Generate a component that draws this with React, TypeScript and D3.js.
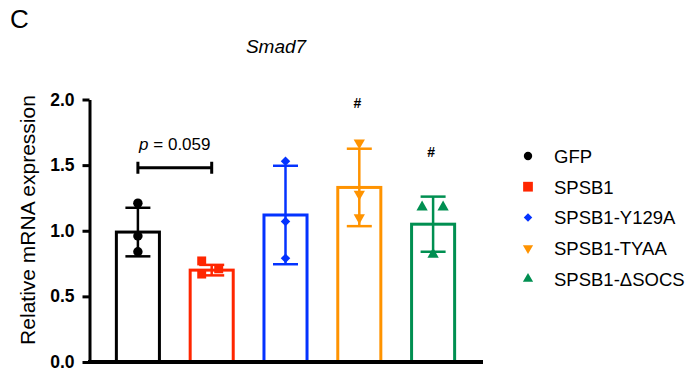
import React, { useEffect, useRef } from 'react';
import * as d3 from 'd3';

const groups = ['GFP', 'SPSB1', 'SPSB1-Y129A', 'SPSB1-TYAA', 'SPSB1-ΔSOCS'];
const means = [0.99, 0.70, 1.12, 1.33, 1.05];
const sds = [0.185, 0.04, 0.375, 0.295, 0.21];
// individual replicate values per group
const points = [
  [1.21, 0.96, 0.84],
  [0.77, 0.67, 0.71],
  [1.53, 1.07, 0.79],
  [1.67, 1.28, 1.10],
  [1.18, 1.18, 0.82],
];
const yTicks = [0, 0.5, 1.0, 1.5, 2.0];
const hashGroups = ['SPSB1-TYAA', 'SPSB1-ΔSOCS'];

const colors = ['#000000', '#ff2600', '#0433ff', '#ff9300', '#008f51'];
const jitter = [
  [0, 0, 0],
  [-10, -10, 7],
  [0, 0, 0],
  [0, 0, 0],
  [-11, 10, 0],
];
const FONT = '"Liberation Sans", Arial, sans-serif';

const symbolFor = (i: number, big: boolean) => {
  const s = big
    ? [70, 80, 45, 55, 55][i]
    : [55, 95, 36, 45, 45][i];
  // diamond = square turned 45deg (rotation set where it's drawn)
  const types = [d3.symbolCircle, d3.symbolSquare, d3.symbolSquare, d3.symbolTriangle, d3.symbolTriangle];
  return d3.symbol().type(types[i]).size(s)();
};
const rot = (i: number) => (i === 3 ? ' rotate(180)' : i === 2 ? ' rotate(45)' : '');

export default function App() {
  const ref = useRef<SVGSVGElement>(null);

  useEffect(() => {
    const svg = d3.select(ref.current);
    svg.selectAll('*').remove();

    const x = d3.scaleBand().domain(groups).range([101, 470]).paddingInner(0.376).paddingOuter(0.188);
    const y = d3.scaleLinear().domain([0, 2]).range([362, 99.5]);

    // panel letter and title
    svg.append('text').text('C').attr('x', 10).attr('y', 28)
      .attr('font-family', FONT).attr('font-size', 26);
    svg.append('text').text('Smad7').attr('x', 276).attr('y', 53)
      .attr('text-anchor', 'middle').attr('font-style', 'italic')
      .attr('font-family', FONT).attr('font-size', 19);

    // bars
    const g = svg.append('g');
    groups.forEach((name, i) => {
      const cx = (x(name) as number) + x.bandwidth() / 2;
      g.append('rect')
        .attr('x', (x(name) as number) + 1.5)
        .attr('y', y(means[i]))
        .attr('width', x.bandwidth() - 3)
        .attr('height', y(0) - y(means[i]))
        .attr('fill', 'none')
        .attr('stroke', colors[i])
        .attr('stroke-width', 3);

      const hi = y(means[i] + sds[i]);
      const lo = y(means[i] - sds[i]);
      g.append('line').attr('x1', cx).attr('x2', cx).attr('y1', hi).attr('y2', lo)
        .attr('stroke', colors[i]).attr('stroke-width', 2.5);
      [hi, lo].forEach(v => {
        g.append('line').attr('x1', cx - 12.5).attr('x2', cx + 12.5).attr('y1', v).attr('y2', v)
          .attr('stroke', colors[i]).attr('stroke-width', 2.5);
      });

      points[i].forEach((p, j) => {
        g.append('path')
          .attr('d', symbolFor(i, true))
          .attr('transform', `translate(${cx + jitter[i][j]},${y(p)})` + rot(i))
          .attr('fill', colors[i]);
      });
    });

    // y axis
    const axis = d3.axisLeft(y).tickValues(yTicks).tickFormat(d3.format('.1f')).tickSize(7).tickSizeOuter(0).tickPadding(8);
    const ga = svg.append('g').attr('transform', 'translate(89.5,0)').call(axis);
    ga.select('.domain').attr('stroke-width', 3);
    ga.selectAll('.tick line').attr('stroke-width', 3);
    ga.selectAll('.tick text').attr('font-family', FONT).attr('font-size', 17.5).attr('font-weight', 'bold').attr('fill', '#000');

    // x baseline
    svg.append('line').attr('x1', 88).attr('x2', 483).attr('y1', y(0)).attr('y2', y(0))
      .attr('stroke', '#000').attr('stroke-width', 4);

    svg.append('text').text('Relative mRNA expression')
      .attr('transform', 'translate(35,220) rotate(-90)')
      .attr('text-anchor', 'middle')
      .attr('font-family', FONT).attr('font-size', 21);

    // p value bracket
    const x1 = (x('GFP') as number) + x.bandwidth() / 2;
    const x2 = (x('SPSB1') as number) + x.bandwidth() / 2;
    const by = y(1.48);
    svg.append('path')
      .attr('d', `M${x1},${by - 6}V${by + 6}M${x1},${by}H${x2}M${x2},${by - 6}V${by + 6}`)
      .attr('stroke', '#000').attr('stroke-width', 3).attr('fill', 'none');
    const pt = svg.append('text').attr('x', (x1 + x2) / 2).attr('y', 150)
      .attr('text-anchor', 'middle').attr('font-family', FONT).attr('font-size', 17);
    pt.append('tspan').text('p').attr('font-style', 'italic');
    pt.append('tspan').text(' = 0.059');

    // # marks
    const hashY = [108, 157];
    hashGroups.forEach((name, k) => {
      svg.append('text').text('#')
        .attr('x', (x(name) as number) + x.bandwidth() / 2 - 2)
        .attr('y', hashY[k])
        .attr('text-anchor', 'middle')
        .attr('font-family', FONT).attr('font-size', 14).attr('font-weight', 'bold');
    });

    // legend
    const lg = svg.append('g').attr('transform', 'translate(528,156)');
    groups.forEach((name, i) => {
      const row = lg.append('g').attr('transform', `translate(0,${i * 30.7})`);
      row.append('path').attr('d', symbolFor(i, false))
        .attr('transform', rot(i).trim() || null)
        .attr('fill', colors[i]);
      row.append('text').text(name).attr('x', 26).attr('y', 7)
        .attr('font-family', FONT).attr('font-size', 18.5);
    });
  }, []);

  return (
    <svg ref={ref} width={692} height={376} style={{ position: 'absolute', left: 0, top: 0, background: '#fff' }} />
  );
}
